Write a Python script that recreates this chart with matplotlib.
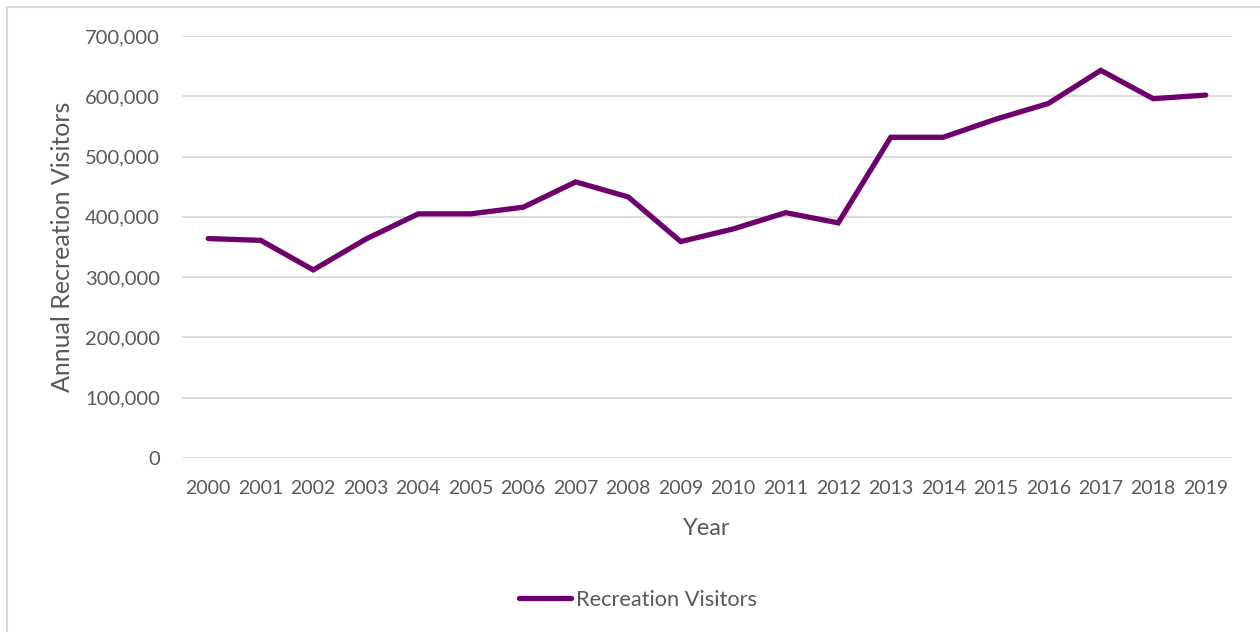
import matplotlib.pyplot as plt
from matplotlib.lines import Line2D
from matplotlib.ticker import FuncFormatter

plt.rcParams['font.family'] = ['Lato', 'DejaVu Sans']

# Annual recreation visitors
years = [str(y) for y in range(2000, 2020)]
visitors = [364000, 361000, 312000, 363000, 405000, 405000, 416000, 458000,
            433000, 359000, 380000, 407000, 390000, 532000, 532000, 562000,
            588000, 643000, 596000, 602000]

text_col = '#595959'
line_col = '#6E006E'

fig = plt.figure(figsize=(12.6, 6.32), dpi=100)
ax = fig.add_axes([182/1260, 1 - 458/632, (1232 - 182)/1260, (458 - 36)/632])

x = range(len(years))
ax.plot(x, visitors, color=line_col, linewidth=3.8, solid_capstyle='round',
        solid_joinstyle='miter', label='Recreation Visitors')

ax.set_xlim(-0.5, len(years) - 0.5)
ax.set_ylim(0, 700000)
ax.set_yticks(range(0, 700001, 100000))
ax.yaxis.set_major_formatter(FuncFormatter(lambda v, p: f'{int(v):,}'))
ax.set_xticks(list(x))
ax.set_xticklabels(years)

ax.grid(axis='y', color='#D9D9D9', linewidth=1.3)
ax.set_axisbelow(True)
for s in ax.spines.values():
    s.set_visible(False)
ax.tick_params(axis='both', length=0, labelsize=14, colors=text_col)
ax.tick_params(axis='y', labelsize=14.5, pad=16)
ax.tick_params(axis='x', pad=16)

ax.set_xlabel('Year', fontsize=17, color=text_col, labelpad=15)
ax.set_ylabel('Annual Recreation Visitors', fontsize=18, color=text_col, labelpad=8)

fig.legend(loc='center', bbox_to_anchor=(638/1260, 1 - 600/632), frameon=False,
           fontsize=15.7, labelcolor=text_col, handlelength=2.4, handletextpad=0.23)

# chart frame (left and top edges visible in the reference)
fig.add_artist(Line2D([7/1260, 7/1260], [0, 1 - 7/632], color='#D9D9D9', linewidth=1.5))
fig.add_artist(Line2D([7/1260, 1], [1 - 7/632, 1 - 7/632], color='#D9D9D9', linewidth=1.5))

fig.savefig('out.png', dpi=100)
